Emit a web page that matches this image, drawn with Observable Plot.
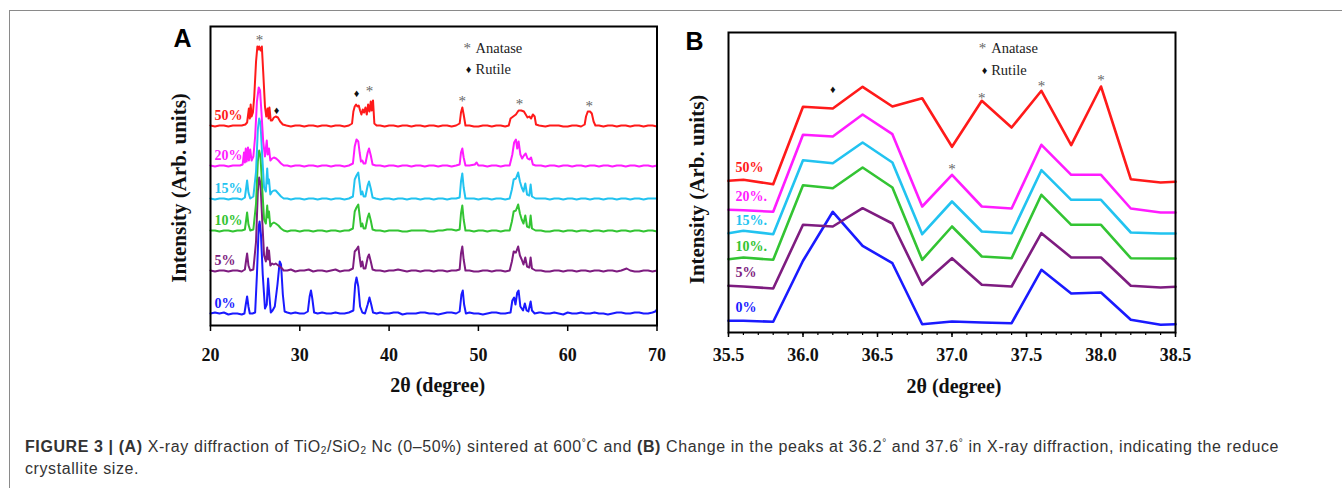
<!DOCTYPE html>
<html><head><meta charset="utf-8">
<script src="https://cdn.jsdelivr.net/npm/d3@7"></script>
<script src="https://cdn.jsdelivr.net/npm/@observablehq/plot@0.6"></script>
<style>
body{margin:0;background:#fff;width:1342px;height:488px;overflow:hidden;position:relative;font-family:"Liberation Sans",Arial,sans-serif}
#border{position:absolute;left:9px;top:10px;width:1345px;height:490px;border-top:1.5px solid #8a8a8a;border-left:1.5px solid #8a8a8a;z-index:5;pointer-events:none}
#panelA{position:absolute;left:150px;top:0}
#panelB{position:absolute;left:670px;top:0}
#caption{position:absolute;left:25px;top:436px;white-space:nowrap;font-size:16px;line-height:22px;color:#333}
#caption sub{font-size:10px;vertical-align:-2px;line-height:0}
#caption sup{font-size:10px;vertical-align:6px;line-height:0}
</style></head><body>
<div id="border"></div>
<div id="panelA"></div>
<div id="panelB"></div>
<div id="caption"><span id="l1"><b>FIGURE 3 | (A)</b> X-ray diffraction of TiO<sub>2</sub>/SiO<sub>2</sub> Nc (0–50%) sintered at 600<sup>°</sup>C and <b>(B)</b> Change in the peaks at 36.2<sup>°</sup> and 37.6<sup>°</sup> in X-ray diffraction, indicating the reduce</span><br><span id="l2">crystallite size.</span></div>
<script>
// ---------- shared ----------
const seriesNames = ["0%","5%","10%","15%","20%","50%"];
const seriesLabelsB = ["0%","5%","10%.","15%.","20%.","50%"];
const seriesColors = ["#1a1aff","#7e1c80","#33c433","#22c3f0","#ff1cff","#ff1a1a"];

// ---------- panel A : XRD patterns (relative intensity, stacked by offset) ----------
const ticksA = [20,30,40,50,60,70];
const offsetsA = [11,54,94,126,159,199];
const xrd0 = [[20,1],[20.5,2],[21,1],[21.5,2],[22,0],[22.5,1],[23,1],[23.5,0],[23.8,1],[23.95,10],[24.1,18],[24.25,8],[24.4,1],[24.7,1],[25.0,2],[25.2,40],[25.4,88],[25.5,93],[25.65,80],[25.85,40],[26.1,6],[26.3,10],[26.45,36],[26.6,18],[26.75,2],[26.95,4],[27.2,8],[27.5,30],[27.75,53],[27.9,50],[28.1,20],[28.3,3],[28.6,2],[29,1],[29.5,2],[30,1],[30.5,1],[30.9,3],[31.1,18],[31.25,24],[31.4,16],[31.6,2],[32,1],[32.5,2],[33,1],[33.5,1],[34,2],[34.5,1],[35,1],[35.5,2],[36.0,4],[36.2,30],[36.35,37],[36.55,28],[36.75,8],[37.0,2],[37.3,1],[37.6,10],[37.8,17],[38.0,10],[38.2,2],[38.6,1],[39,2],[39.5,1],[40,1],[40.5,2],[41,2],[41.5,0],[42,1],[42.5,1],[43,1],[43.5,2],[44,2],[44.5,1],[45,1],[45.5,0],[46,1],[46.5,2],[47,2],[47.5,1],[47.9,3],[48.1,20],[48.25,24],[48.4,10],[48.6,1],[49,2],[49.5,1],[50,1],[50.5,0],[51,1],[51.5,2],[52,2],[52.5,1],[53,1],[53.6,2],[53.8,14],[54.0,17],[54.15,10],[54.35,22],[54.5,24],[54.7,8],[55.0,4],[55.2,11],[55.4,4],[55.6,3],[55.85,13],[56.0,4],[56.3,1],[56.8,2],[57,2],[57.5,1],[58,1],[58.5,2],[59,1],[59.5,0],[60,2],[60.5,1],[61,1],[61.5,2],[62,1],[62.5,1],[63,2],[63.5,1],[64,1],[64.5,0],[65,1],[65.5,2],[66,2],[66.5,1],[67,1],[67.5,2],[68,2],[68.5,1],[69,1],[69.5,2],[69.8,3],[70,5]];
const xrd5 = [[20,1],[20.5,0],[21,1],[21.5,1],[22,0],[22.5,1],[23,1],[23.5,0],[23.85,2],[24.0,12],[24.1,18],[24.25,6],[24.45,1],[24.8,2],[25.1,30],[25.3,80],[25.45,94],[25.6,88],[25.8,50],[26.0,16],[26.2,10],[26.35,24],[26.45,12],[26.55,21],[26.7,6],[26.9,8],[27.1,7],[27.3,8],[27.6,6],[27.9,4],[28.2,1],[28.6,1],[29,2],[29.5,0],[30,1],[30.5,1],[31,2],[31.5,0],[32,1],[32.5,1],[33,0],[33.5,1],[34,2],[34.5,0],[35,1],[35.5,1],[35.95,3],[36.15,20],[36.35,22],[36.55,25],[36.7,14],[36.85,5],[37.0,10],[37.15,3],[37.35,3],[37.6,14],[37.75,17],[37.95,10],[38.15,2],[38.5,1],[39,1],[39.5,0],[40,1],[40.5,1],[41,2],[41.5,1],[42,0],[42.5,1],[43,1],[43.5,0],[44,1],[44.5,1],[45,0],[45.5,1],[46,1],[46.5,0],[47,1],[47.5,1],[47.9,2],[48.05,18],[48.2,25],[48.35,12],[48.55,1],[49,1],[49.5,0],[50,0],[50.5,1],[51,1],[51.5,0],[52,1],[52.5,1],[53,0],[53.5,1],[53.75,10],[53.95,20],[54.2,19],[54.45,25],[54.65,16],[54.85,12],[55.05,7],[55.25,14],[55.45,5],[55.7,4],[55.85,14],[56.0,3],[56.4,1],[57,1],[57.5,0],[58,0],[58.5,1],[59,1],[59.5,0],[60,1],[60.5,1],[61,0],[61.5,1],[62,1],[62.5,0],[63,1],[63.5,1],[64,0],[64.5,1],[65,1],[65.5,0],[66,1],[66.6,3],[67,1],[67.5,0],[68,0],[68.5,1],[69,1],[69.5,0],[70,1]];
const xrd10 = [[20,1],[20.5,1],[21,0],[21.5,1],[22,1],[22.5,0],[23,1],[23.5,1],[23.85,2],[24.0,12],[24.1,19],[24.25,7],[24.45,1],[24.8,2],[25.1,28],[25.3,70],[25.45,81],[25.6,75],[25.8,42],[26.0,12],[26.2,8],[26.35,26],[26.45,14],[26.55,20],[26.7,5],[26.9,8],[27.1,9],[27.3,8],[27.6,6],[27.9,3],[28.2,1],[28.6,0],[29,1],[29.5,1],[30,0],[30.5,1],[31,1],[31.5,0],[32,1],[32.5,1],[33,0],[33.5,1],[34,1],[34.5,0],[35,1],[35.5,1],[35.95,3],[36.15,20],[36.35,24],[36.55,27],[36.7,16],[36.85,5],[37.0,8],[37.15,3],[37.35,3],[37.6,14],[37.75,18],[37.95,11],[38.15,2],[38.5,1],[39,1],[39.5,0],[40,1],[40.5,1],[41,1],[41.5,0],[42,0],[42.5,1],[43,1],[43.5,1],[44,1],[44.5,0],[45,0],[45.5,1],[46,1],[46.5,2],[47,2],[47.5,1],[47.9,2],[48.05,18],[48.2,26],[48.35,12],[48.55,1],[49,1],[49.5,0],[50,1],[50.5,1],[51,0],[51.5,1],[52,1],[52.5,0],[53,1],[53.5,1],[53.75,10],[53.95,20],[54.2,21],[54.45,27],[54.65,18],[54.85,12],[55.05,8],[55.25,16],[55.45,5],[55.7,4],[55.85,16],[56.0,3],[56.4,1],[57,1],[57.5,0],[58,0],[58.5,1],[59,1],[59.5,0],[60,1],[60.5,1],[61,0],[61.5,1],[62,1],[62.5,0],[63,1],[63.5,1],[64,0],[64.5,1],[65,1],[65.5,0],[66,1],[66.5,1],[67,0],[67.5,1],[68,1],[68.5,0],[69,1],[69.5,1],[70,0]];
const xrd15 = [[20,1],[20.5,0],[21,1],[21.5,1],[22,0],[22.5,1],[23,1],[23.5,0],[23.85,2],[24.0,12],[24.1,19],[24.25,7],[24.45,1],[24.8,3],[25.1,28],[25.3,70],[25.45,81],[25.6,76],[25.8,42],[26.0,12],[26.2,8],[26.35,31],[26.45,16],[26.55,20],[26.7,5],[26.9,8],[27.1,9],[27.3,9],[27.6,6],[27.9,3],[28.2,1],[28.6,1],[29,0],[29.5,1],[30,1],[30.5,0],[31,1],[31.5,1],[32,0],[32.5,1],[33,1],[33.5,0],[34,1],[34.5,1],[35,0],[35.5,1],[35.95,3],[36.15,20],[36.35,24],[36.55,27],[36.7,16],[36.85,5],[37.0,8],[37.15,3],[37.35,3],[37.6,14],[37.75,18],[37.95,11],[38.15,2],[38.5,1],[39,0],[39.5,1],[40,1],[40.5,0],[41,1],[41.5,1],[42,0],[42.5,1],[43,1],[43.5,0],[44,1],[44.5,1],[45,0],[45.5,1],[46,1],[46.5,0],[47,1],[47.5,1],[47.9,2],[48.05,18],[48.2,26],[48.35,12],[48.55,1],[49,1],[49.5,1],[50,0],[50.5,1],[51,1],[51.5,0],[52,1],[52.5,1],[53,0],[53.5,1],[53.75,10],[53.95,20],[54.2,21],[54.45,27],[54.65,18],[54.85,12],[55.05,8],[55.25,16],[55.45,5],[55.7,4],[55.85,15],[56.0,3],[56.4,1],[57,1],[57.5,1],[58,0],[58.5,1],[59,1],[59.5,0],[60,1],[60.5,1],[61,0],[61.5,1],[62,1],[62.5,0],[63,1],[63.5,1],[64,0],[64.5,1],[65,1],[65.5,0],[66,1],[66.5,1],[67,0],[67.5,1],[68,1],[68.5,0],[69,1],[69.5,1],[70,1]];
const xrd20 = [[20,1],[20.5,0],[21,1],[21.5,1],[22,0],[22.5,1],[23,1],[23.3,1],[23.6,2],[23.75,14],[23.85,4],[23.95,18],[24.05,5],[24.2,19],[24.3,6],[24.45,17],[24.6,6],[24.8,10],[25.0,30],[25.2,65],[25.4,79],[25.55,76],[25.7,55],[25.9,25],[26.1,10],[26.3,26],[26.4,12],[26.55,18],[26.7,6],[26.9,8],[27.1,9],[27.35,8],[27.6,6],[27.9,3],[28.2,1],[28.6,1],[29,0],[29.5,1],[30,1],[30.5,0],[31,1],[31.5,1],[32,0],[32.5,1],[33,1],[33.5,0],[34,1],[34.5,1],[35,0],[35.5,1],[35.95,3],[36.15,20],[36.35,27],[36.55,25],[36.7,14],[36.85,5],[37.0,6],[37.15,3],[37.35,3],[37.6,14],[37.75,18],[37.95,11],[38.15,2],[38.5,1],[39,1],[39.5,0],[40,1],[40.5,1],[41,0],[41.5,1],[42,1],[42.5,0],[43,1],[43.5,1],[44,0],[44.5,1],[45,1],[45.5,0],[46,1],[46.5,1],[47,0],[47.5,1],[47.9,2],[48.05,14],[48.2,18],[48.35,9],[48.55,1],[49,1],[49.6,2],[49.8,4],[50.0,1],[50.5,1],[51,0],[51.5,1],[52,1],[52.5,0],[53,1],[53.5,1],[53.8,12],[54.0,24],[54.2,27],[54.35,18],[54.5,25],[54.7,12],[54.9,8],[55.1,11],[55.3,13],[55.5,8],[55.7,7],[55.9,9],[56.1,2],[56.4,1],[57,1],[57.5,0],[58,1],[58.5,1],[59,0],[59.5,1],[60,1],[60.5,0],[61,1],[61.5,1],[62,0],[62.5,1],[63,1],[63.5,0],[64,1],[64.5,1],[65,0],[65.5,1],[66,1],[66.5,0],[67,1],[67.5,1],[68,0],[68.5,1],[69,1],[69.5,0],[70,1]];
const xrd50 = [[20,1],[20.5,0],[21,1],[21.5,1],[22,0],[22.5,1],[23,1],[23.5,1],[23.9,2],[24.1,4],[24.3,18],[24.4,8],[24.5,22],[24.6,10],[24.75,14],[24.9,30],[25.1,65],[25.25,80],[25.35,77],[25.45,80],[25.6,76],[25.75,80],[25.9,55],[26.1,20],[26.25,10],[26.4,18],[26.5,8],[26.6,19],[26.75,6],[26.9,6],[27.1,9],[27.3,10],[27.55,9],[27.8,5],[28.1,2],[28.5,1],[29,0],[29.5,1],[30,1],[30.5,0],[31,1],[31.5,1],[32,0],[32.5,1],[33,1],[33.5,0],[34,1],[34.5,1],[35,0],[35.5,1],[35.85,3],[36.0,15],[36.15,20],[36.3,22],[36.45,20],[36.6,21],[36.75,16],[36.9,12],[37.05,17],[37.2,14],[37.35,19],[37.5,12],[37.65,22],[37.8,15],[37.95,25],[38.05,16],[38.2,26],[38.35,3],[38.6,1],[39,1],[39.5,0],[40,1],[40.5,1],[41,0],[41.5,1],[42,1],[42.5,0],[43,1],[43.5,1],[44,0],[44.5,1],[45,1],[45.5,0],[46,1],[46.5,1],[47,0],[47.5,1],[47.9,3],[48.05,14],[48.2,19],[48.35,12],[48.55,1],[49,1],[49.5,0],[50,0],[50.5,1],[51,1],[51.5,0],[52,1],[52.5,1],[53,0],[53.4,1],[53.6,8],[53.9,10],[54.2,12],[54.5,16],[54.8,16],[55.1,15],[55.3,12],[55.5,9],[55.7,10],[55.9,8],[56.1,12],[56.3,10],[56.45,2],[56.8,1],[57.5,0],[58,1],[58.5,1],[59,1],[59.5,0],[60,0],[60.5,1],[61,1],[61.5,0],[61.9,2],[62.05,10],[62.25,15],[62.5,15],[62.7,13],[62.9,5],[63.1,1],[63.5,1],[64,0],[64.5,1],[65,1],[65.5,0],[66,1],[66.5,1],[67,0],[67.5,1],[68,1],[68.5,0],[69,1],[69.5,1],[70,0]];
const patternsA = [xrd0, xrd5, xrd10, xrd15, xrd20, xrd50];
// phase markers, panel A (2θ, intensity)
const markA_x = [25.5, 27.4, 36.35, 37.8, 48.2, 54.6, 62.4];
const markA_y = [288, 215, 232, 237, 227, 224, 222];
const markA_sym = ["*","♦","♦","*","*","*","*"];

// ---------- panel B : zoom 35.5–38.5 ----------
const ticksB = [35.5,36.0,36.5,37.0,37.5,38.0,38.5];
const minorTicksB = [35.5,35.6,35.7,35.8,35.9,36.0,36.1,36.2,36.3,36.4,36.5,36.6,36.7,36.8,36.9,37.0,37.1,37.2,37.3,37.4,37.5,37.6,37.7,37.8,37.9,38.0,38.1,38.2,38.3,38.4,38.5];
const thetaB = [35.5,35.6,35.8,36.0,36.2,36.4,36.6,36.8,37.0,37.2,37.4,37.6,37.8,38.0,38.2,38.4,38.5];
const zoom0  = [11.7,11.7,10.7,71.7,120.7,86.7,69.3,8.3,11,10,9.3,62.7,39,40,12.7,7.7,8.3];
const zoom5  = [46.7,46,44,107.7,106,124.3,109,47.7,74.3,47.7,46,99.3,75,75,46.7,45,45.7];
const zoom10 = [73.3,75,72.7,147.3,144.3,165,145,72.7,106,76,74.3,137.7,107.7,107.7,74.3,74,74];
const zoom15 = [99.3,101.7,98.3,172.3,169.3,190,170,98.3,131,101,99.3,162.3,132.7,132.7,100,99,99];
const zoom20 = [122.7,122.3,120.7,197.7,196,218,198.3,126,157.7,126,124,187.7,157.7,157.7,124,120,120];
const zoom50 = [151.7,152.7,148.3,225.7,224,245.7,226,234.3,185.7,231.7,205,241.7,187.3,246,153.3,150,150.7];
const patternsB = [zoom0, zoom5, zoom10, zoom15, zoom20, zoom50];
const markB_x = [36.2, 37.0, 37.2, 37.6, 38.0];
const markB_y = [243, 166, 237, 249, 255];
const markB_sym = ["♦","*","*","*","*"];

// ---------- build tables ----------
const rowsA = [];
patternsA.forEach((pts, i) => pts.forEach(([x, v]) => rowsA.push({s: seriesNames[i], x, y: offsetsA[i] + v})));
const labelsA = seriesNames.map((s, i) => ({s, y: offsetsA[i]}));
const rowsB = [];
patternsB.forEach((vals, i) => vals.forEach((v, j) => rowsB.push({s: seriesNames[i], x: thetaB[j], y: v})));
const labelsB = seriesNames.map((s, i) => ({s, t: seriesLabelsB[i], y: patternsB[i][0]}));
const marksA = markA_x.map((x, i) => ({x, y: markA_y[i], t: markA_sym[i]}));
const marksB = markB_x.map((x, i) => ({x, y: markB_y[i], t: markB_sym[i]}));

const serif = "'Liberation Serif','Times New Roman',serif";
const sans = "'Liberation Sans',Arial,sans-serif";
const color = {domain: seriesNames, range: seriesColors};

function symMarks(data) {
  return [
    Plot.text(data.filter(d => d.t === "*"), {x: "x", y: "y", text: "t", fill: "#666", fontSize: 15, dy: 3}),
    Plot.text(data.filter(d => d.t !== "*"), {x: "x", y: "y", text: "t", fill: "#111", fontSize: 11})
  ];
}
function legendMarks(xs, xd, xt, yA, yR) {
  return [
    Plot.text(["*"], {x: xs, y: yA + 3, fill: "#666", fontSize: 15, dy: 3}),
    Plot.text(["Anatase"], {x: xt, y: yA, textAnchor: "start", fill: "#222", fontSize: 14.5}),
    Plot.text(["♦"], {x: xd, y: yR, fill: "#111", fontSize: 11}),
    Plot.text(["Rutile"], {x: xt, y: yR, textAnchor: "start", fill: "#222", fontSize: 14.5})
  ];
}

const chartA = Plot.plot({
  width: 520, height: 410,
  marginLeft: 60, marginRight: 13.5, marginTop: 26, marginBottom: 85,
  style: {fontFamily: serif, background: "transparent", overflow: "visible"},
  x: {domain: [20, 70]},
  y: {domain: [0, 299], axis: null},
  color,
  marks: [
    Plot.line(rowsA, {x: "x", y: "y", z: "s", stroke: "s", strokeWidth: 2, strokeLinejoin: "round"}),
    Plot.text(labelsA, {y: "y", text: "s", fill: "s", frameAnchor: "left", textAnchor: "start", dx: 4, dy: -11, fontSize: 14, fontWeight: "bold"}),
    ...symMarks(marksA),
    ...legendMarks(48.75, 48.9, 49.68, 277, 256),
    Plot.frame({stroke: "black", strokeWidth: 2}),
    Plot.axisX({ticks: ticksA, tickSize: 6, tickPadding: 17, label: null, fontSize: 18, fontWeight: "bold", fill: "#111", strokeWidth: 1.5}),
    Plot.text(["2θ (degree)"], {frameAnchor: "bottom", textAnchor: "middle", dy: 66, dx: 4, fontSize: 20, fontWeight: "bold", fill: "#111"}),
    Plot.text(["Intensity (Arb. units)"], {frameAnchor: "left", textAnchor: "middle", lineAnchor: "middle", rotate: -90, dx: -31, dy: 12, fontSize: 21, fontWeight: "bold", fill: "#111"}),
    Plot.text(["A"], {frameAnchor: "top-left", textAnchor: "start", lineAnchor: "bottom", dx: -37, dy: 20, fontSize: 25, fontWeight: "bold", fontFamily: sans, fill: "black"})
  ]
});
document.getElementById("panelA").appendChild(chartA);

const chartB = Plot.plot({
  width: 520, height: 410,
  marginLeft: 58, marginRight: 15, marginTop: 32, marginBottom: 78,
  style: {fontFamily: serif, background: "transparent", overflow: "visible"},
  x: {domain: [35.5, 38.5]},
  y: {domain: [0, 300], axis: null},
  color,
  marks: [
    Plot.line(rowsB, {x: "x", y: "y", z: "s", stroke: "s", strokeWidth: 2.6, strokeLinejoin: "round"}),
    Plot.text(labelsB, {y: "y", text: "t", fill: "s", frameAnchor: "left", textAnchor: "start", dx: 7, dy: -13, fontSize: 14, fontWeight: "bold"}),
    ...symMarks(marksB),
    ...legendMarks(37.205, 37.218, 37.263, 284, 262),
    Plot.frame({stroke: "black", strokeWidth: 2}),
    Plot.axisX({ticks: minorTicksB, tickSize: 3, tickFormat: () => "", label: null, strokeWidth: 1.2}),
    Plot.axisX({ticks: ticksB, tickSize: 5, tickPadding: 11, tickFormat: d3.format(".1f"), label: null, fontSize: 18, fontWeight: "bold", fill: "#111", strokeWidth: 1.5}),
    Plot.text(["2θ (degree)"], {frameAnchor: "bottom", textAnchor: "middle", dy: 60, dx: 2, fontSize: 20, fontWeight: "bold", fill: "#111"}),
    Plot.text(["Intensity (Arb. units)"], {frameAnchor: "left", textAnchor: "middle", lineAnchor: "middle", rotate: -90, dx: -31, dy: 7, fontSize: 21, fontWeight: "bold", fill: "#111"}),
    Plot.text(["B"], {frameAnchor: "top-left", textAnchor: "start", lineAnchor: "bottom", dx: -43, dy: 17, fontSize: 25, fontWeight: "bold", fontFamily: sans, fill: "black"})
  ]
});
document.getElementById("panelB").appendChild(chartB);

// fit caption line to the reference line length
const l1 = document.getElementById("l1");
const target = 1254;
const w = l1.getBoundingClientRect().width;
const n = l1.textContent.length;
const ls = (target - w) / n;
document.getElementById("caption").style.letterSpacing = ls.toFixed(3) + "px";
</script>
</body></html>
